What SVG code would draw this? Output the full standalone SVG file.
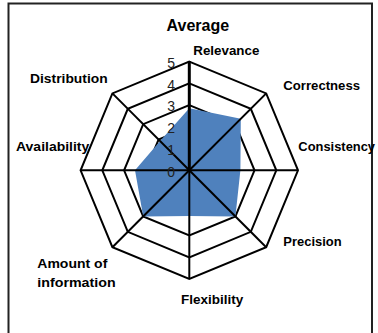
<svg xmlns="http://www.w3.org/2000/svg" width="378" height="333" viewBox="0 0 378 333">
<style>
.lbl{font-family:"Liberation Sans",Arial,sans-serif;font-weight:bold;font-size:13.5px;fill:#000;}
.ttl{font-family:"Liberation Sans",Arial,sans-serif;font-weight:bold;font-size:16px;fill:#000;}
.tick{font-family:"Liberation Sans",Arial,sans-serif;font-size:14px;fill:#222;}
.ring{fill:none;stroke:#000;stroke-width:2;stroke-linejoin:miter;}
.spoke{stroke:#000;stroke-width:2;}
</style>
<rect x="0" y="0" width="378" height="333" fill="#fff"/>
<rect x="8.5" y="3.5" width="363.5" height="340" fill="#fff" stroke="#222" stroke-width="2"/>
<g id="grid">
<polygon class="ring" points="189.3,61.6 266.2,93.4 298,170.3 266.2,247.2 189.3,279 112.4,247.2 80.6,170.3 112.4,93.4"/>
<polygon class="ring" points="189.3,83.3 250.8,108.8 276.3,170.3 250.8,231.8 189.3,257.3 127.8,231.8 102.3,170.3 127.8,108.8"/>
<polygon class="ring" points="189.3,105.1 235.4,124.2 254.5,170.3 235.4,216.4 189.3,235.5 143.2,216.4 124.1,170.3 143.2,124.2"/>
<polygon class="ring" points="189.3,126.8 220.0,139.6 232.8,170.3 220.0,201.0 189.3,213.8 158.6,201.0 145.8,170.3 158.6,139.6"/>
<polygon class="ring" points="189.3,148.6 204.7,154.9 211.0,170.3 204.7,185.7 189.3,192 173.9,185.7 167.6,170.3 173.9,154.9"/>
</g>
<g id="series-average">
<polygon fill="#4F81BD" points="189.3,108.3 240.8,118.8 240.4,170.3 235.4,216.4 189.3,216.0 143.2,216.4 135.0,170.3 160.1,141.1"/>
</g>
<g id="connectors">
<line class="spoke" x1="189.3" y1="170.3" x2="266.2" y2="93.4"/>
<line class="spoke" x1="189.3" y1="170.3" x2="298" y2="170.3"/>
<line class="spoke" x1="189.3" y1="170.3" x2="266.2" y2="247.2"/>
<line class="spoke" x1="189.3" y1="170.3" x2="189.3" y2="279"/>
<line class="spoke" x1="189.3" y1="170.3" x2="112.4" y2="247.2"/>
<line class="spoke" x1="189.3" y1="170.3" x2="80.6" y2="170.3"/>
<line class="spoke" x1="189.3" y1="170.3" x2="112.4" y2="93.4"/>
<line x1="189.3" y1="171.5" x2="189.3" y2="61" stroke="#000" stroke-width="3"/>
</g>
<g id="ticks">
<text class="tick" x="175" y="176.5" text-anchor="end">0</text>
<text class="tick" x="175" y="154.8" text-anchor="end">1</text>
<text class="tick" x="175" y="133" text-anchor="end">2</text>
<text class="tick" x="175" y="111.3" text-anchor="end">3</text>
<text class="tick" x="175" y="89.5" text-anchor="end">4</text>
<text class="tick" x="175" y="67.8" text-anchor="end">5</text>
</g>
<g id="title"><text class="ttl" x="197.8" y="30.7" text-anchor="middle">Average</text></g>
<g id="label-relevance"><text class="lbl" x="226.3" y="55" text-anchor="middle" textLength="66" lengthAdjust="spacingAndGlyphs">Relevance</text></g>
<g id="label-correctness"><text class="lbl" x="321.7" y="90" text-anchor="middle" textLength="76.7" lengthAdjust="spacingAndGlyphs">Correctness</text></g>
<g id="label-consistency"><text class="lbl" x="336.7" y="151.3" text-anchor="middle" textLength="76.7" lengthAdjust="spacingAndGlyphs">Consistency</text></g>
<g id="label-precision"><text class="lbl" x="312.5" y="245.7" text-anchor="middle" textLength="58.3" lengthAdjust="spacingAndGlyphs">Precision</text></g>
<g id="label-flexibility"><text class="lbl" x="212.2" y="304" text-anchor="middle" textLength="62.3" lengthAdjust="spacingAndGlyphs">Flexibility</text></g>
<g id="label-amount"><text class="lbl" x="37.3" y="268.3" textLength="70" lengthAdjust="spacingAndGlyphs">Amount of</text><text class="lbl" x="37.3" y="287.3" textLength="78.3" lengthAdjust="spacingAndGlyphs">information</text></g>
<g id="label-availability"><text class="lbl" x="16" y="150.5" textLength="73.3" lengthAdjust="spacingAndGlyphs">Availability</text></g>
<g id="label-distribution"><text class="lbl" x="30" y="83" textLength="77.7" lengthAdjust="spacingAndGlyphs">Distribution</text></g>
</svg>
